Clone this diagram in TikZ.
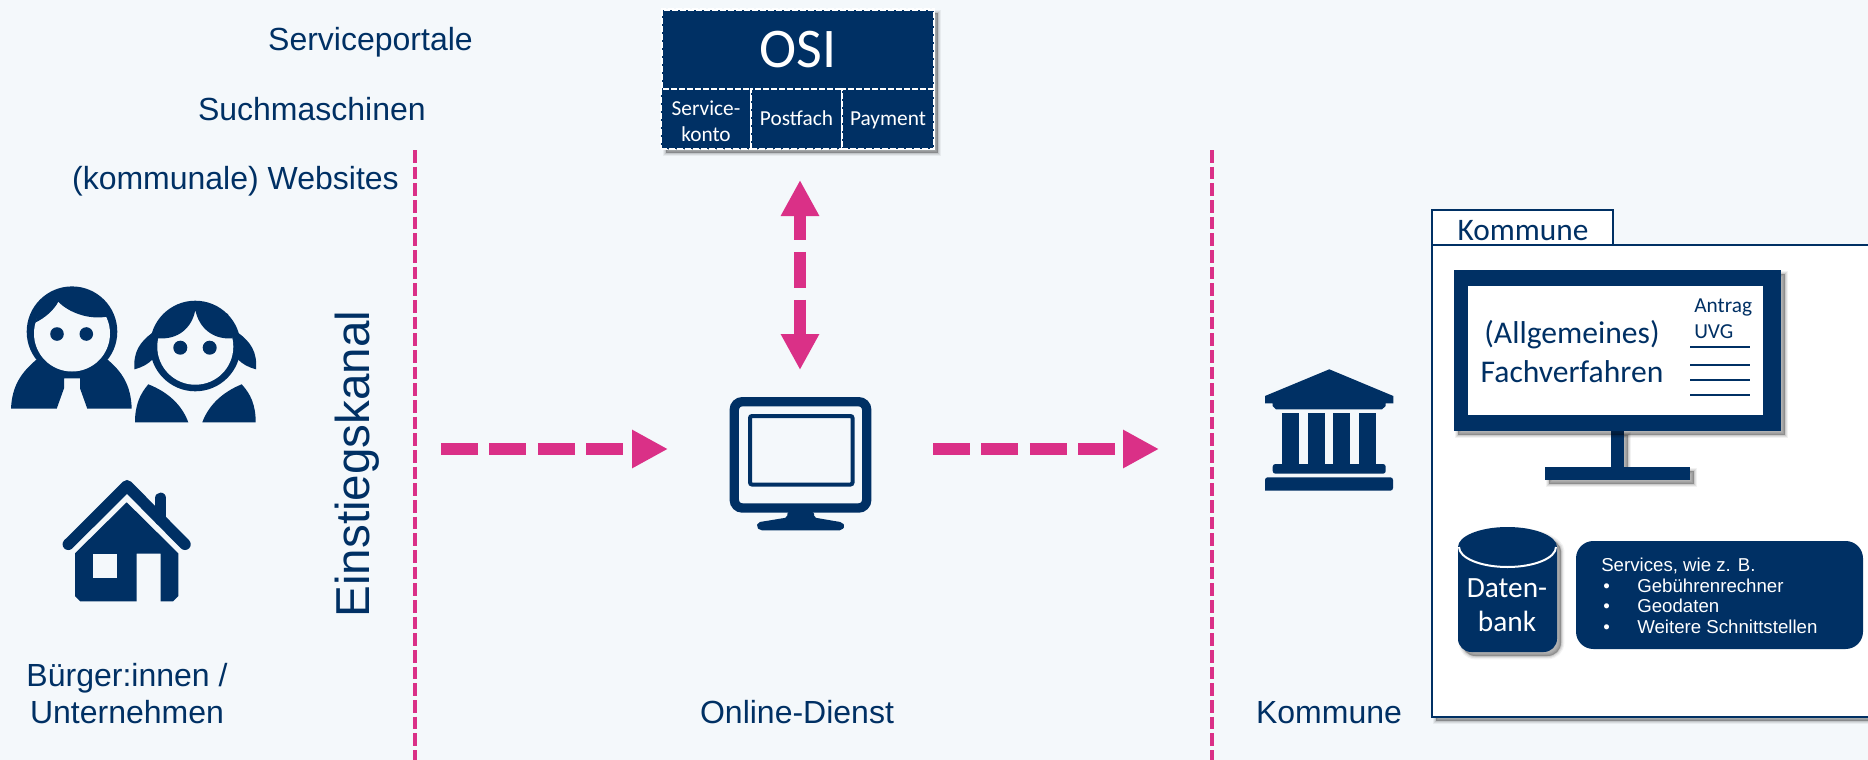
\documentclass[tikz,border=0pt]{standalone}
\usepackage{fontspec}
\setmainfont{Liberation Sans}
\newfontfamily\calibri{Carlito}
\usetikzlibrary{arrows.meta, shadows}
\definecolor{navy1}{HTML}{003064}
\definecolor{pink1}{HTML}{DA3087}
\definecolor{lightbg}{HTML}{F4F8FB}
\newcommand{\px}{0.75pt}
\newcommand{\fsize}[2]{\fontsize{#1}{#2}\selectfont}

\begin{document}
\begin{tikzpicture}[x=0.75pt, y=-0.75pt,
  softshadow/.style={
    general shadow={shadow xshift=3pt, shadow yshift=-3pt, solid, fill=black, draw=black, line width=5pt, opacity=0.05},
    general shadow={shadow xshift=3pt, shadow yshift=-3pt, solid, fill=black, draw=black, line width=3.2pt, opacity=0.07},
    general shadow={shadow xshift=3pt, shadow yshift=-3pt, solid, fill=black, draw=black, line width=1.5pt, opacity=0.09},
    general shadow={shadow xshift=3pt, shadow yshift=-3pt, solid, fill=black, opacity=0.12}},
  label/.style={text=navy1, font=\fsize{24}{27.6}, inner sep=0pt, align=center},
  calib/.style={font=\calibri\fsize{#1}{25.5}, inner sep=0pt, align=center},
  osibox/.style={fill=navy1, draw=white, line width=1.1pt, dash pattern=on 4.5pt off 1.5pt,
                 inner sep=0pt, text=white, align=center},
  osicell/.style={osibox, minimum height=60*\px, font=\calibri\fsize{16}{19.5}},
  border/.style={draw=pink1, line width=3.5pt, dash pattern=on 9.5pt off 3pt},
  flow/.style={draw=pink1, line width=9.3pt, dash pattern=on 27.7pt off 8.6pt},
  flowtip/.tip={Triangle[length=27pt, width=27pt]},
  icon/.style={fill=navy1},
]
\useasboundingbox (0,0) rectangle (1868,760);
\fill[lightbg] (0,0) rectangle (1868,760);

% Entry channels
\node[label, anchor=east] (portal) at (473,42.5) {Serviceportale};
\node[label, anchor=east] (search) at (426,109) {Suchmaschinen};
\node[label, anchor=east] (web) at (399,181) {(kommunale) Websites};
\node[text=navy1, font=\fsize{35.7}{40}, inner sep=0pt, rotate=90] (channel) at (357,464) {Einstiegskanal};

% Separators
\coordinate (sepa1) at (415,150);
\coordinate (sepa2) at (415,760);
\coordinate (sepb1) at (1212,150);
\coordinate (sepb2) at (1212,760);
\draw[border] (sepa1) -- (sepa2);
\draw[border] (sepb1) -- (sepb2);

% Man
\fill[icon] (11,408.7) .. controls (12,385) and (22,372) .. (36,360) -- (108,360)
  .. controls (122,372) and (131,385) .. (131.7,408.7) -- (87.3,408.7) -- (80,388.3)
  -- (80,378.3) -- (64,378.3) -- (64,388.3) -- (56.7,408.7) -- cycle;
\fill[icon] (72,331.7) circle [radius=45.3];
\fill[lightbg] (72,333.5) circle [radius=38];
\fill[icon] (35,322.7) .. controls (45,318) and (54,310) .. (58.3,301.7)
  .. controls (68,312) and (88,320) .. (106.7,316.7) -- (100,300) -- (72,292) -- (44,300) -- cycle;
\fill[icon] (57,334) circle [radius=6.8];
\fill[icon] (86.3,334) circle [radius=6.8];

% Woman
\fill[icon] (135,422.3) .. controls (135,405) and (140,394) .. (148.3,384.3)
  .. controls (168,392) and (182,405) .. (188.3,422.3) -- cycle;
\fill[icon] (255.7,422.3) .. controls (255.7,405) and (250.7,394) .. (241.7,384.3)
  .. controls (222.7,392) and (208.7,405) .. (202.3,422.3) -- cycle;
\fill[icon] (152,333) .. controls (140,342) and (133,352) .. (134.5,369.3)
  .. controls (143,367) and (148,364) .. (153,359) -- cycle;
\fill[icon] (238.5,333) .. controls (250.5,342) and (257.5,352) .. (256,369.3)
  .. controls (247.5,367) and (242.5,364) .. (237.5,359) -- cycle;
\fill[icon] (195.3,346) circle [radius=45.3];
\fill[lightbg] (195.3,346.7) circle [radius=38];
\fill[icon] (157.7,338.3) .. controls (178,340) and (192,328) .. (195.3,310)
  .. controls (199,328) and (213,340) .. (232.7,338.3) -- (228,314) -- (195.3,304) -- (163,314) -- cycle;
\fill[icon] (180.3,347.7) circle [radius=7];
\fill[icon] (209.7,347.7) circle [radius=7];

% House
\draw[navy1, line width=8.6pt, line cap=round, line join=round]
  (68.3,544.3) -- (127,485.7) -- (185,544.3);
\draw[navy1, line width=8.6pt, line cap=round] (160.7,498.3) -- (160.7,520);
\fill[icon] (75,553.3) -- (126.7,502.3) -- (178.3,553.3) -- (178.3,596) -- (173,601.3) -- (160.7,601.3)
  -- (160.7,553.7) -- (136.7,553.7) -- (136.7,601.3) -- (80.3,601.3) -- (75,596) -- cycle;
\fill[lightbg] (92.7,553.7) rectangle (117,577.7);
\node[label] (citizen) at (127,693.5) {Bürger:innen /\\Unternehmen};

% OSI block
\node[osibox, softshadow, minimum width=272*\px, minimum height=140*\px] (osiback) at (798,79) {};
\node[osibox, minimum width=272*\px, minimum height=80*\px, font=\calibri\fsize{42}{46}] (osi) at (798,50) {OSI};
\node[osicell, minimum width=90*\px] (konto) at (706,119) {\rule{0pt}{14pt}Service-\\konto};
\node[osicell, minimum width=91*\px, text height=13pt, text depth=3pt] (postfach) at (796.5,119) {Postfach};
\node[osicell, minimum width=92*\px, text height=13pt, text depth=3pt] (payment) at (888,119) {Payment};

% Online service
\draw[navy1, line width=7pt, rounded corners=6pt] (734.3,401.7) rectangle (866.7,508);
\draw[navy1, line width=3pt, rounded corners=1.5pt] (750,416) rectangle (852.5,484.5);
\fill[icon, rounded corners=1.5pt] (787.3,512) -- (787.3,517.5) -- (758,522.3) -- (756.5,527) -- (760,530.3)
  -- (841.7,530.3) -- (845,526) -- (842,522.3) -- (814,517.5) -- (814,512) -- cycle;
\node[label] (service) at (797,712) {Online-Dienst};

% Flows
\coordinate (in1) at (441,449);
\coordinate (in2) at (668,449);
\coordinate (out1) at (933,449);
\coordinate (out2) at (1159,449);
\coordinate (osiport) at (800,180);
\coordinate (webport) at (800,370);
\draw[flow, -{flowtip}] (in1) -- (in2);
\draw[flow, -{flowtip}] (out1) -- (out2);
\draw[flow, {flowtip}-{flowtip}, dash pattern=on 27pt off 9pt, dash phase=7.5pt] (osiport) -- (webport);

% Municipal building
\fill[icon] (1329.3,369.3) -- (1393.3,396) -- (1393.3,403.3) -- (1385.7,403.3) -- (1385.7,406) -- (1382,409.3)
  -- (1276,409.3) -- (1272.5,406) -- (1272.5,403.3) -- (1265,403.3) -- (1265,396) -- cycle;
\foreach \colx in {1282,1308.3,1333,1359.3}
  \fill[icon] (\colx,412.7) rectangle (\colx+17,465);
\fill[icon, rounded corners=2pt] (1272.7,473.7) -- (1272.7,464) -- (1385.7,464) -- (1385.7,473.7) -- cycle;
\fill[icon, rounded corners=2pt] (1265,490.7) -- (1265,477.3) -- (1393,477.3) -- (1393,490.7) [sharp corners] -- cycle;
\node[label] (town) at (1329,713) {Kommune};

% Municipality panel
\draw[navy1, line width=1.9pt, fill=white, softshadow] (1880,245) -- (1432,245) -- (1432,717) -- (1880,717);
\draw[navy1, line width=1.9pt, fill=white] (1432,245) -- (1432,210) -- (1613,210) -- (1613,245) -- cycle;
\node[calib=23.5, text=navy1] (tab) at (1523,230.5) {Kommune};

% Large monitor
\fill[icon, softshadow] (1611,431) rectangle (1624,467);
\fill[icon, softshadow] (1545,467) rectangle (1690,480);
\fill[icon, softshadow] (1454,270) rectangle (1781,431);
\fill[white] (1468,286) rectangle (1763,415);
\node[calib=23.7, text=navy1] (proc1) at (1572,335) {(Allgemeines)};
\node[calib=23.7, text=navy1] (proc2) at (1572,372) {Fachverfahren};
\node[calib=16, text=navy1, anchor=west] (form1) at (1694,307.5) {Antrag};
\node[calib=16, text=navy1, anchor=west] (form2) at (1694,332) {UVG};
\foreach \liney in {347,365,380,395}
  \draw[navy1, line width=0.8pt] (1690,\liney) -- (1750,\liney);

% Database
\fill[icon, softshadow] (1458,547) [rounded corners=10pt] -- (1458,652) -- (1557,652) [sharp corners] -- (1557,547)
  arc [start angle=0, end angle=-180, x radius=49.5, y radius=20] -- cycle;
\draw[white, line width=1.5pt] (1459,547) arc [start angle=180, end angle=0, x radius=48.5, y radius=20];
\node[calib=22, text=white] (dbase) at (1507,605) {Daten-\\bank};

% Services
\node[fill=navy1, rounded corners=13pt, minimum width=287*\px, minimum height=108*\px, inner sep=0pt] (svcbox) at (1719.5,595) {};
\node[anchor=west, text=white, align=left, inner sep=0pt, font=\fsize{14}{15.4}] (svctext) at (1601,596)
  {Services, wie z. B.\\
   \makebox[27pt][l]{\hspace{1.5pt}\textbullet}Gebührenrechner\\
   \makebox[27pt][l]{\hspace{1.5pt}\textbullet}Geodaten\\
   \makebox[27pt][l]{\hspace{1.5pt}\textbullet}Weitere Schnittstellen};
\end{tikzpicture}
\end{document}
